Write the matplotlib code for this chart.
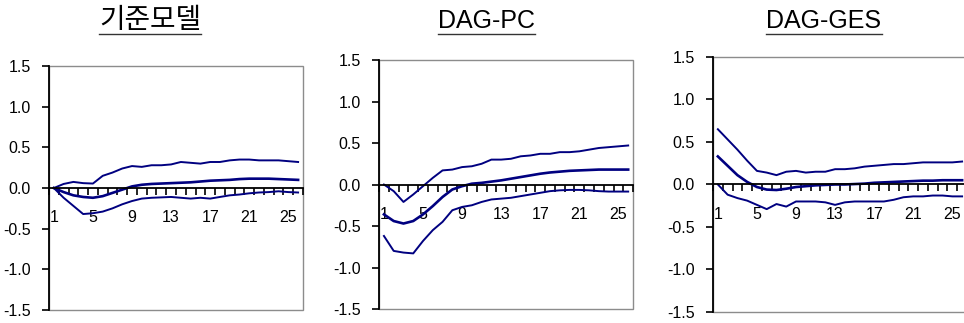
import matplotlib
matplotlib.use('Agg')
import matplotlib.pyplot as plt
from matplotlib.patches import Rectangle
from matplotlib.lines import Line2D
import numpy as np

plt.rcParams['font.family'] = ['Liberation Sans', 'DejaVu Sans']

periods = list(range(1, 27))
tick_labels = ['1', '5', '9', '13', '17', '21', '25']
titles = ['기준모델', 'DAG-PC', 'DAG-GES']

# 기준모델
base_upper = [0.00, 0.05, 0.075, 0.06, 0.055, 0.15, 0.19, 0.24, 0.27, 0.26, 0.28, 0.28, 0.29,
              0.32, 0.31, 0.30, 0.32, 0.32, 0.34, 0.35, 0.35, 0.34, 0.34, 0.34, 0.33, 0.32]
base_mid = [0.00, -0.05, -0.09, -0.11, -0.12, -0.10, -0.06, -0.02, 0.02, 0.04, 0.05, 0.055, 0.06,
            0.065, 0.07, 0.08, 0.09, 0.095, 0.10, 0.11, 0.115, 0.115, 0.115, 0.11, 0.105, 0.10]
base_lower = [0.00, -0.12, -0.22, -0.32, -0.31, -0.29, -0.25, -0.20, -0.16, -0.13, -0.12, -0.115, -0.11,
              -0.12, -0.13, -0.12, -0.13, -0.11, -0.09, -0.08, -0.065, -0.055, -0.05, -0.04, -0.05, -0.055]

# DAG-PC
pc_upper = [0.00, -0.08, -0.21, -0.12, -0.02, 0.08, 0.17, 0.18, 0.21, 0.22, 0.25, 0.30, 0.30,
            0.31, 0.34, 0.35, 0.37, 0.37, 0.39, 0.39, 0.40, 0.42, 0.44, 0.45, 0.46, 0.47]
pc_mid = [-0.36, -0.44, -0.47, -0.44, -0.36, -0.26, -0.15, -0.06, -0.02, 0.01, 0.02, 0.035, 0.05,
          0.07, 0.09, 0.11, 0.13, 0.145, 0.155, 0.165, 0.17, 0.175, 0.18, 0.18, 0.18, 0.18]
pc_lower = [-0.62, -0.80, -0.82, -0.83, -0.68, -0.55, -0.45, -0.31, -0.27, -0.25, -0.21, -0.18, -0.17,
            -0.16, -0.14, -0.12, -0.10, -0.08, -0.07, -0.065, -0.065, -0.07, -0.08, -0.085, -0.085, -0.085]

# DAG-GES
ges_upper = [0.65, 0.53, 0.41, 0.28, 0.16, 0.14, 0.11, 0.15, 0.16, 0.14, 0.15, 0.15, 0.18,
             0.18, 0.19, 0.21, 0.22, 0.23, 0.24, 0.24, 0.25, 0.26, 0.26, 0.26, 0.26, 0.27]
ges_mid = [0.33, 0.22, 0.11, 0.03, -0.03, -0.06, -0.065, -0.05, -0.03, -0.02, -0.01, -0.005, 0.0,
           0.0, 0.005, 0.01, 0.02, 0.025, 0.03, 0.035, 0.04, 0.045, 0.045, 0.05, 0.05, 0.05]
ges_lower = [0.00, -0.12, -0.16, -0.19, -0.24, -0.29, -0.23, -0.26, -0.20, -0.20, -0.20, -0.21, -0.24,
             -0.21, -0.20, -0.20, -0.20, -0.20, -0.18, -0.15, -0.14, -0.14, -0.13, -0.13, -0.14, -0.14]

panels = [(base_upper, base_mid, base_lower),
          (pc_upper, pc_mid, pc_lower),
          (ges_upper, ges_mid, ges_lower)]

# axes boxes in figure fraction (left, bottom, width, height)
boxes = [[0.0508, 0.0402, 0.2635, 0.7554],
         [0.3932, 0.0433, 0.2635, 0.7709],
         [0.7396, 0.0341, 0.2635, 0.7895]]
title_x = [0.1556, 0.5042, 0.8548]
line_col = '#000080'

fig = plt.figure(figsize=(9.64, 3.23), dpi=100)

for (upper, mid, lower), box in zip(panels, boxes):
    ax = fig.add_axes(box)
    ax.plot(periods, upper, color=line_col, lw=1.4)
    ax.plot(periods, mid, color=line_col, lw=1.9)
    ax.plot(periods, lower, color=line_col, lw=1.4)
    ax.set_xlim(0.5, 26.5)
    ax.set_ylim(-1.5, 1.5)

    # grey plot-area frame
    ax.add_patch(Rectangle((0, 0), 1, 1, transform=ax.transAxes, fill=False,
                           edgecolor='#8c8c8c', lw=1.0, zorder=0.5, clip_on=False))
    for s in ['top', 'right']:
        ax.spines[s].set_visible(False)
    ax.spines['left'].set_color('black')
    ax.spines['left'].set_linewidth(1.3)
    ax.spines['bottom'].set_position(('data', 0))
    ax.spines['bottom'].set_color('black')
    ax.spines['bottom'].set_linewidth(1.3)

    ax.set_yticks(np.arange(-1.5, 1.51, 0.5))
    ax.set_yticklabels(['%.1f' % v for v in np.arange(-1.5, 1.51, 0.5)])
    ax.tick_params(axis='y', direction='out', length=5, width=1.2, pad=8, labelsize=11.5)

    ax.set_xticks(np.arange(0.5, 26.6, 1.0))
    ax.set_xticklabels([])
    ax.set_xticks(np.arange(1, 26, 4), minor=True)
    ax.set_xticklabels(tick_labels, minor=True)
    ax.tick_params(axis='x', which='major', direction='out', length=5, width=1.2)
    ax.tick_params(axis='x', which='minor', length=0, pad=16, labelsize=11.5)
    ax.set_facecolor('white')

title_y = 1 - 28 / 323
texts = []
for t, x in zip(titles, title_x):
    if t == '기준모델':
        txt = fig.text(x, title_y, t, ha='center', va='baseline', fontsize=20,
                       fontweight='light', family=['Noto Sans CJK KR', 'DejaVu Sans'])
    else:
        txt = fig.text(x, title_y, t, ha='center', va='baseline', fontsize=18)
    texts.append(txt)

fig.canvas.draw()
r = fig.canvas.get_renderer()
uy = 1 - 34 / 323
for txt in texts:
    bb = txt.get_window_extent(r)
    x0, x1 = bb.x0 / fig.bbox.width, bb.x1 / fig.bbox.width
    fig.add_artist(Line2D([x0, x1], [uy, uy], color='#333333', lw=1.0))

fig.savefig('out.png', dpi=100)
